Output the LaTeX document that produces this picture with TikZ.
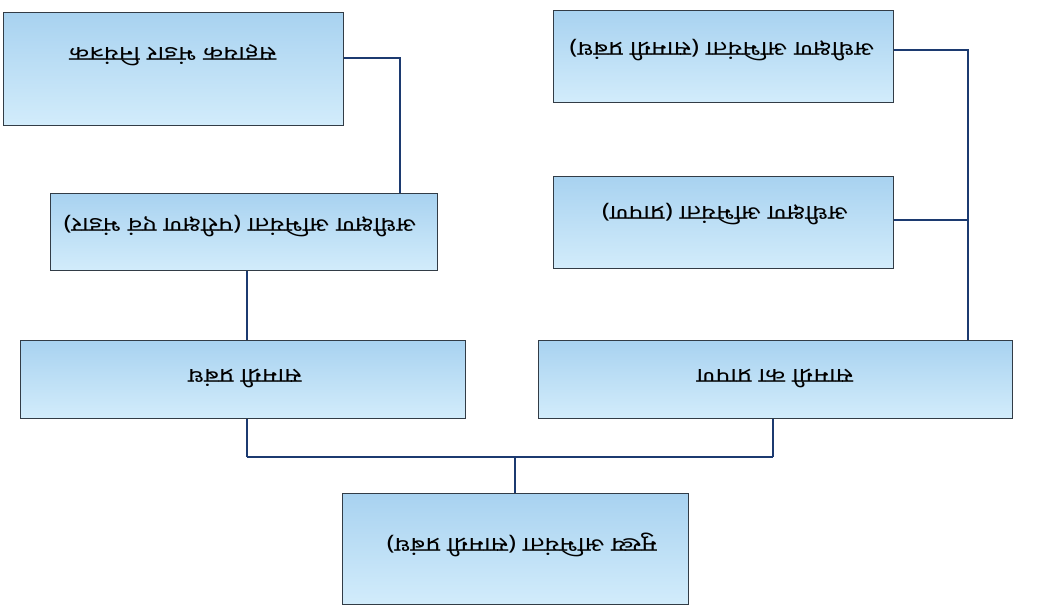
\documentclass[tikz,border=0pt]{standalone}
\usepackage{fontspec}
\newfontfamily\dev[Script=Devanagari,FakeStretch=1.27]{Noto Sans}
\definecolor{lineblue}{RGB}{28,58,112}
\definecolor{boxtop}{RGB}{168,210,240}
\definecolor{boxbot}{RGB}{210,236,251}
\definecolor{boxedge}{RGB}{50,60,70}
\tikzset{
  orgbox/.style={draw=boxedge, line width=1pt, top color=boxtop, bottom color=boxbot, inner sep=0pt},
  lbl/.style={rotate=180, font=\dev\fontsize{20.5}{24}\selectfont, inner sep=0pt, text=black},
  link/.style={draw=lineblue, line width=2.6pt},
}
\begin{document}
\begin{tikzpicture}[x=1pt,y=-1pt]
\useasboundingbox (0,0) rectangle (1043,606);
\fill[white] (0,0) rectangle (1043,606);
% connector junctions
\coordinate (jB) at (515,457);
\coordinate (jL) at (247,457);
\coordinate (jR) at (773,457);
\coordinate (k1) at (400,58);
\coordinate (s2) at (968,50);
\coordinate (s4) at (968,220);
\coordinate (s6) at (968,340);
% boxes
\node[orgbox, minimum width=340pt, minimum height=113pt] (b1) at (173,68.5) {};
\node[orgbox, minimum width=340pt, minimum height=92pt] (b2) at (723,56) {};
\node[orgbox, minimum width=387pt, minimum height=77pt] (b3) at (243.5,231.5) {};
\node[orgbox, minimum width=340pt, minimum height=92pt] (b4) at (723,222) {};
\node[orgbox, minimum width=445pt, minimum height=78pt] (b5) at (242.5,379) {};
\node[orgbox, minimum width=474pt, minimum height=78pt] (b6) at (775,379) {};
\node[orgbox, minimum width=346pt, minimum height=111pt] (bB) at (515,548.5) {};
% connectors
\draw[link] (bB.north) -- (jB);
\draw[link] (jL) -- (jR);
\draw[link] (jL) -- (jL |- b5.south);
\draw[link] (jR) -- (jR |- b6.south);
\draw[link] (b5.north -| jL) -- (jL |- b3.south);
\draw[link] (b3.north -| k1) -- (k1) -- (k1 -| b1.east);
\draw[link] (s6) -- (s2) -- (s2 -| b2.east);
\draw[link] (s4) -- (s4 -| b4.east);
% texts (upside down, as in the reference)
\node[lbl] (t1) at (173,55) {सहायक भंडार नियंत्रक};
\node[lbl] (t2) at (722,50) {अधीक्षण अभियंता (सामग्री प्रबंध)};
\node[lbl] (t3) at (240,226) {अधीक्षण अभियंता (परीक्षण एवं भंडार)};
\node[lbl] (t4) at (725,214) {अधीक्षण अभियंता (प्रापण)};
\node[lbl] (t5) at (245,378) {सामग्री प्रबंध};
\node[lbl] (t6) at (775,378) {सामग्री का प्रापण};
\node[lbl] (tB) at (522,545) {मुख्य अभियंता (सामग्री प्रबंध)};
\end{tikzpicture}
\end{document}
